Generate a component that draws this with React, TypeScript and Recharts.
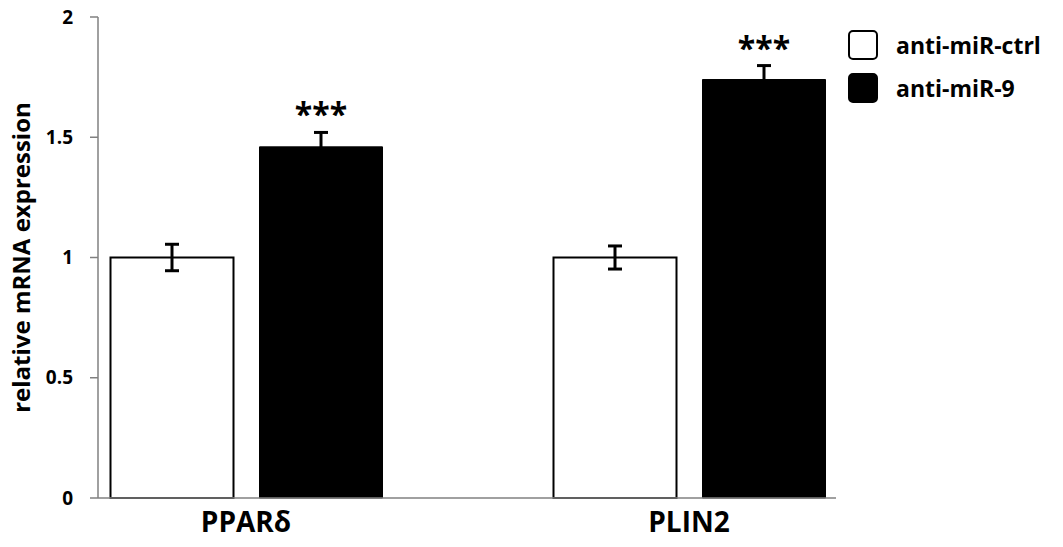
import React from "react";
import { BarChart, Bar, XAxis, YAxis, ErrorBar, LabelList, Legend, Label } from "recharts";

const FONT = "'Open Sans', Lato, sans-serif";

const genes = ["PPARδ", "PLIN2"];
const ctrlValues = [1.0, 1.0];
const ctrlErrors = [0.055, 0.048];
const mir9Values = [1.46, 1.74];
const mir9Errors = [0.06, 0.058];
const significance = ["***", "***"];
const yTicks = [0, 0.5, 1, 1.5, 2];
const seriesNames = ["anti-miR-ctrl", "anti-miR-9"];
const seriesFills = ["#fff", "#000"];

const data = genes.map((gene, i) => ({
  gene,
  ctrl: ctrlValues[i],
  ctrlErr: ctrlErrors[i],
  mir9: mir9Values[i],
  mir9Err: mir9Errors[i],
  stars: significance[i],
}));

function StarLabel(props: any) {
  const { x, y, width, height, value, index } = props;
  const pxPerUnit = height / mir9Values[index];
  const errTop = y - mir9Errors[index] * pxPerUnit;
  return (
    <text
      x={x + width / 2}
      y={errTop - 6}
      textAnchor="middle"
      fontSize={32}
      fontWeight={700}
      fontFamily={FONT}
      fill="#000"
    >
      {value}
    </text>
  );
}

function YLabel(props: any) {
  const { viewBox } = props;
  const cx = 20;
  const cy = viewBox.y + viewBox.height / 2;
  return (
    <text
      x={cx}
      y={cy}
      transform={`rotate(-90 ${cx} ${cy})`}
      textAnchor="middle"
      dominantBaseline="central"
      fontSize={24}
      fontWeight={700}
      fontFamily={FONT}
      fill="#000"
    >
      relative mRNA expression
    </text>
  );
}

function LegendBox() {
  return (
    <div style={{ fontFamily: FONT }}>
      {seriesNames.map((name, i) => (
        <div key={name} style={{ display: "flex", alignItems: "center", height: 43 }}>
          <span
            style={{
              display: "inline-block",
              width: 26,
              height: 26,
              borderRadius: 5,
              border: "2.5px solid #000",
              background: seriesFills[i],
              marginRight: 18,
            }}
          />
          <span style={{ fontSize: 23, fontWeight: 700, color: "#000" }}>{name}</span>
        </div>
      ))}
    </div>
  );
}

export default function App() {
  return (
    <div style={{ position: "absolute", left: 0, top: 0, background: "#fff" }}>
      <BarChart
        width={1063}
        height={547}
        data={data}
        margin={{ top: 17, right: 227, bottom: 0, left: 0 }}
        barSize={123}
        barGap={26}
      >
        <XAxis
          dataKey="gene"
          height={49}
          padding={{ left: -73.5, right: -74.5 }}
          stroke="#808080"
          strokeWidth={1.5}
          tickLine={false}
          tickSize={0}
          tickMargin={14}
          tick={{ fontSize: 28, fontWeight: 700, fill: "#000", fontFamily: FONT }}
        />
        <YAxis
          domain={[0, 2]}
          ticks={yTicks}
          width={98}
          stroke="#808080"
          strokeWidth={1.5}
          tickSize={8}
          tickMargin={17}
          tick={{ fontSize: 19, fontWeight: 700, fill: "#000", fontFamily: FONT }}
        >
          <Label content={<YLabel />} />
        </YAxis>
        <Legend
          layout="horizontal"
          verticalAlign="middle"
          align="center"
          wrapperStyle={{ top: 23, left: 848, width: 215, height: 90 }}
          content={<LegendBox />}
        />
        <Bar
          dataKey="ctrl"
          name={seriesNames[0]}
          fill={seriesFills[0]}
          stroke="#000"
          strokeWidth={2}
          isAnimationActive={false}
        >
          <ErrorBar dataKey="ctrlErr" width={7} stroke="#000" strokeWidth={3} direction="y" />
        </Bar>
        <Bar
          dataKey="mir9"
          name={seriesNames[1]}
          fill={seriesFills[1]}
          stroke="#000"
          strokeWidth={1}
          isAnimationActive={false}
        >
          <ErrorBar dataKey="mir9Err" width={7} stroke="#000" strokeWidth={3} direction="y" />
          <LabelList dataKey="stars" content={<StarLabel />} />
        </Bar>
      </BarChart>
    </div>
  );
}
